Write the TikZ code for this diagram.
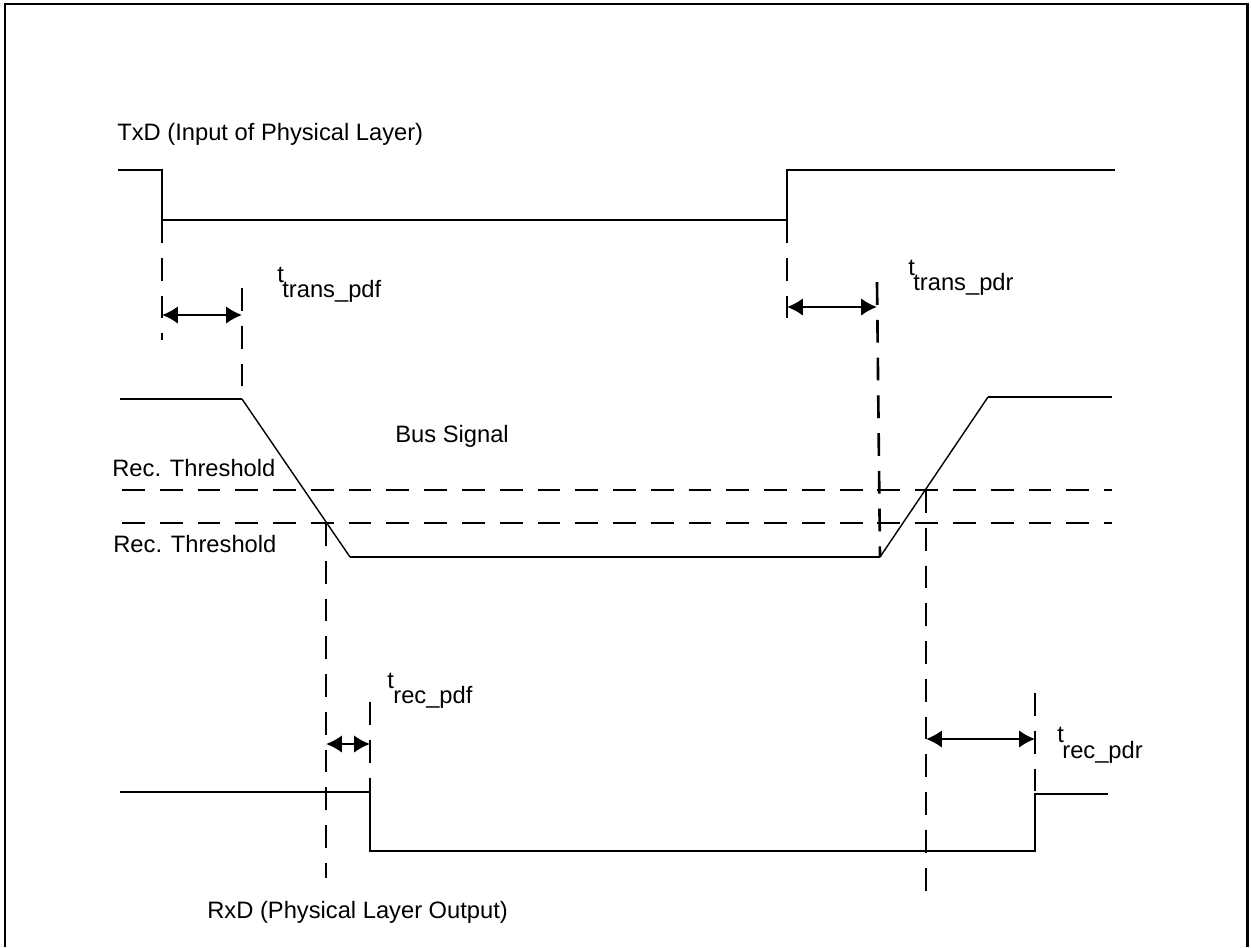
\documentclass[tikz,border=0pt]{standalone}
\usepackage{fontspec}
\setmainfont{Liberation Sans}
\usetikzlibrary{arrows.meta}

\begin{document}
\begin{tikzpicture}[x=0.02cm, y=-0.02cm,
    every node/.style={font=\fontsize{13.5}{16}\selectfont, inner sep=0pt, anchor=base west},
    sig/.style={line width=1.5pt},
    slope/.style={line width=0.8pt},
    dashline/.style={line width=1.5pt, dash pattern=on 13pt off 8.5pt},
    span/.style={line width=1.5pt, {Latex[length=9pt,width=10pt]}-{Latex[length=9pt,width=10pt]}}]
    \useasboundingbox (0,0) rectangle (1251,947);

    % Frame
    \draw[line width=1.7pt] (5,947) -- (5,4) -- (1247,4) -- (1247,947);

    % TxD
    \node (txdlbl) at (117,140) {TxD (Input of Physical Layer)};
    \coordinate (txstart) at (118,170);
    \coordinate (txfall) at (162,220);
    \coordinate (txrise) at (787,220);
    \coordinate (txend) at (1115,170);
    \draw[sig] (txstart) -| (txfall) -- (txrise) |- (txend);

    % Bus signal
    \node (buslbl) at (395,442) {Bus Signal};
    \coordinate (busstart) at (120,399);
    \coordinate (busfallhi) at (242,399);
    \coordinate (busfalllo) at (350,557);
    \coordinate (busriselo) at (880,557);
    \coordinate (busrisehi) at (988,397);
    \coordinate (busend) at (1112,397);
    \draw[sig] (busstart) -- (busfallhi);
    \draw[slope] (busfallhi) -- (busfalllo);
    \draw[sig] (busfalllo) -- (busriselo);
    \draw[slope] (busriselo) -- (busrisehi);
    \draw[sig] (busrisehi) -- (busend);

    % Thresholds
    \node (thrhi) at (112,476) {Rec. Threshold};
    \node (thrlo) at (113,552) {Rec. Threshold};
    \coordinate (thrhil) at (122,490);
    \coordinate (thrhir) at (1112,490);
    \coordinate (thrlol) at (122,523);
    \coordinate (thrlor) at (1112,523);
    \draw[dashline] (thrhil) -- (thrhir);
    \draw[dashline] (thrlol) -- (thrlor);

    % RxD
    \node (rxdlbl) at (207,918) {RxD (Physical Layer Output)};
    \coordinate (rxstart) at (120,792);
    \coordinate (rxfall) at (370,851);
    \coordinate (rxrise) at (1035,851);
    \coordinate (rxend) at (1108,794);
    \draw[sig] (rxstart) -| (rxfall) -- (rxrise) |- (rxend);

    % Delay markers
    \coordinate (d1) at (162,340);
    \coordinate (d2) at (242,288);
    \coordinate (d3) at (787,332);
    \coordinate (d4) at (877,282);
    \coordinate (xlo) at (326,523);
    \coordinate (xlob) at (326,878);
    \coordinate (xhi) at (926,490);
    \coordinate (xhib) at (926,898);
    \coordinate (d5) at (370,702);
    \coordinate (d6) at (1035,693);
    \draw[dashline] (txfall) -- (d1);
    \draw[dashline] (d2) -- (busfallhi);
    \draw[dashline] (txrise) -- (d3);
    \draw[dashline] (d4) -- (busriselo);
    \draw[dashline] (xlo) -- (xlob);
    \draw[dashline] (xhi) -- (xhib);
    \draw[dashline] (d5) -- (rxstart -| rxfall);
    \draw[dashline] (d6) -- (rxend -| rxrise);

    \draw[span] (162,315) -- (242,315);
    \draw[span] (787,307) -- (877,307);
    \draw[span] (326,744) -- (370,744);
    \draw[span] (926,739) -- (1035,739);

    % Delay labels
    \node (t1) at (277,282) {t};
    \node (t1sub) at (282,297) {trans\_pdf};
    \node (t2) at (908,275) {t};
    \node (t2sub) at (913,290) {trans\_pdr};
    \node (t3) at (387,688) {t};
    \node (t3sub) at (393,703) {rec\_pdf};
    \node (t4) at (1057,742) {t};
    \node (t4sub) at (1062,758) {rec\_pdr};
\end{tikzpicture}
\end{document}
